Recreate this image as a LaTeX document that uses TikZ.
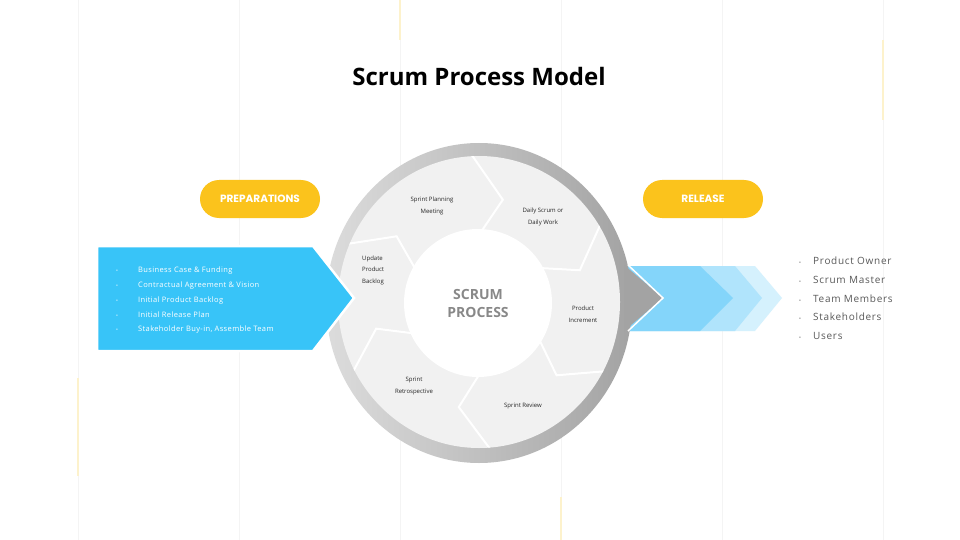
\documentclass[tikz,border=0pt]{standalone}
\usepackage{fontspec}
\setmainfont{Open Sans}
\newfontfamily\pillfont{Poppins}
\newfontfamily\leftlistfont{Open Sans}[LetterSpace=5]
\newfontfamily\rightlistfont{Open Sans}[LetterSpace=7]
\usetikzlibrary{calc}
\definecolor{blueL}{HTML}{38C4F8}
\definecolor{pillY}{HTML}{FBC31C}
\definecolor{chevA}{HTML}{84D5FA}
\definecolor{chevB}{HTML}{B0E4FC}
\definecolor{chevC}{HTML}{D5F1FD}
\definecolor{ringL}{HTML}{DCDCDC}
\definecolor{ringR}{HTML}{A3A3A3}
\definecolor{discC}{HTML}{F1F1F1}
\definecolor{gridC}{HTML}{F4F4F4}
\definecolor{ylineC}{HTML}{FDF2CC}
\definecolor{listG}{HTML}{595959}
\definecolor{scrumG}{HTML}{888888}
\definecolor{segT}{HTML}{262626}
\tikzset{
  gridline/.style={draw=gridC, line width=0.8pt},
  yline/.style={draw=ylineC, line width=2pt},
  sepline/.style={draw=white, line width=2pt, line join=miter, shorten >=-20pt},
  pill/.style={rectangle, rounded corners=19pt, fill=pillY, minimum width=120pt, minimum height=38pt, inner sep=0pt, text=white, font=\pillfont\bfseries\fontsize{10.5}{12}\selectfont},
  segtext/.style={font=\fontsize{6}{11.5}\selectfont, text=segT, align=center, inner sep=0pt},
  leftitem/.style={anchor=mid west, inner sep=0pt, text=white, font=\leftlistfont\fontsize{7.5}{9}\selectfont},
  leftbullet/.style={anchor=mid west, inner sep=0pt, text=white, font=\fontsize{5}{6}\selectfont},
  rightitem/.style={anchor=mid west, inner sep=0pt, text=listG, font=\rightlistfont\fontsize{10}{12}\selectfont},
  rightbullet/.style={anchor=mid west, inner sep=0pt, text=listG, font=\fontsize{5}{6}\selectfont},
  corecircle/.style={circle, fill=white, minimum size=148pt, inner sep=0pt, align=center, text=scrumG, font=\bfseries\fontsize{14}{18}\selectfont}
}
\begin{document}
\begin{tikzpicture}[x=1pt,y=-1pt]
\useasboundingbox (0,0) rectangle (960,540);
\fill[white] (0,0) rectangle (960,540);
% faint grid lines
\foreach \gx in {78,239,400,561,722,883} \draw[gridline] (\gx,0) -- (\gx,540);
\draw[yline] (400,0) -- (400,40);
\draw[yline] (883,40) -- (883,120);
\draw[yline] (78,378) -- (78,476);
\draw[yline] (561,497) -- (561,540);
% title
\node[font=\bfseries\fontsize{24}{28}\selectfont, text=black] (title) at (479,77) {Scrum Process Model};
% release chevrons
\fill[chevC] (620,266) -- (755,266) -- (782,298) -- (755,331) -- (620,331) -- cycle;
\fill[chevB] (620,266) -- (735,266) -- (762,298) -- (735,331) -- (620,331) -- cycle;
\fill[chevA] (620,266) -- (700,266) -- (733,298) -- (700,331) -- (620,331) -- cycle;
% ring
\shade[left color=ringL, right color=ringR] (479,303) ellipse [x radius=153, y radius=160];
\fill[discC] (479,302) ellipse [x radius=141, y radius=146];
\begin{scope}
  \clip (479,302) ellipse [x radius=141, y radius=146];
  \foreach \a in {153,89,30,-31,-89,-154} {
    \draw[sepline] ({479+70*cos(\a)},{303-70*sin(\a)}) -- ({479+106*cos(\a-12)},{303-106*sin(\a-12)}) -- ({479+145*cos(\a+3)},{303-145*sin(\a+3)});
  }
\end{scope}
\node[corecircle] (core) at (478,303) {SCRUM\\PROCESS};
% gray arrow head on the right
\fill[ringR] (624,265) -- (663,298) -- (624,331) -- cycle;
\draw[white, line width=1.5pt, line join=miter] (628,265) -- (663,298) -- (628,331);
% left blue arrow
\filldraw[fill=blueL, draw=white, line width=2.5pt, line join=miter] (97,246) -- (313,246) -- (354,298) -- (313,351) -- (97,351) -- cycle;
% pills
\node[pill] (prep) at (260,199) {PREPARATIONS};
\node[pill] (rel) at (703,199) {RELEASE};
% segment labels
\node[segtext] (plan) at (432,206) {Sprint Planning\\Meeting};
\node[segtext] (daily) at (543,217) {Daily Scrum or\\Daily Work};
\node[segtext, align=left, anchor=west] (backlog) at (362,270) {Update\\Product\\Backlog};
\node[segtext] (incr) at (583,314) {Product\\Increment};
\node[segtext] (retro) at (414,386) {Sprint\\Retrospective};
\node[segtext] (review) at (523,406) {Sprint Review};
% left list
\foreach \t [count=\i] in {{Business Case \& Funding},{Contractual Agreement \& Vision},{Initial Product Backlog},{Initial Release Plan},{Stakeholder Buy-in, Assemble Team}} {
  \node[leftbullet] (lb\i) at (116,{270+14.8*(\i-1)}) {\textbullet};
  \node[leftitem] (li\i) at (138,{270+14.8*(\i-1)}) {\t};
}
% right list
\foreach \t [count=\i] in {{Product Owner},{Scrum Master},{Team Members},{Stakeholders},{Users}} {
  \node[rightbullet] (rb\i) at (799,{262+18.75*(\i-1)}) {\textbullet};
  \node[rightitem] (ri\i) at (813,{262+18.75*(\i-1)}) {\t};
}
\end{tikzpicture}
\end{document}
